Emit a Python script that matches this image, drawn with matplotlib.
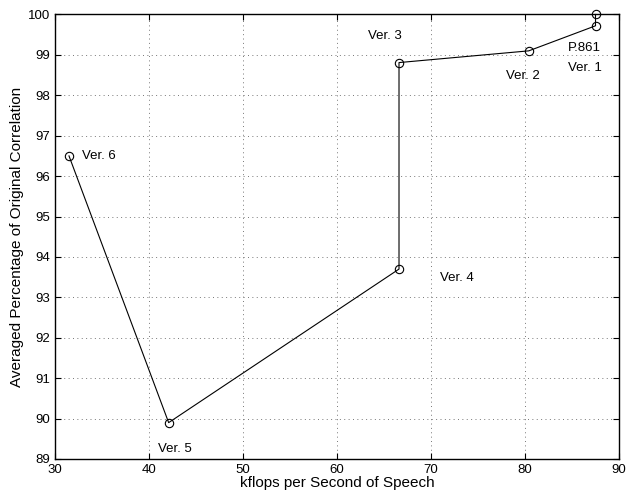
import matplotlib
matplotlib.use('Agg')
import matplotlib.pyplot as plt

# data (path order as drawn)
kflops = [87.5, 87.5, 80.4, 66.6, 66.6, 42.1, 31.5]
corr = [100.0, 99.72, 99.1, 98.81, 93.7, 89.9, 96.5]

# annotation labels and where they sit (data units)
labels = ['P.861', 'Ver. 1', 'Ver. 2', 'Ver. 3', 'Ver. 4', 'Ver. 5', 'Ver. 6']
label_x = [84.6, 84.6, 78.0, 63.3, 71.0, 41.0, 32.9]
label_y = [99.17, 98.67, 98.48, 99.47, 93.48, 89.25, 96.5]

plt.rcParams['font.family'] = ['Liberation Sans', 'DejaVu Sans']

fig = plt.figure(figsize=(6.31, 4.96), dpi=100)
ax = fig.add_axes([0.087, 0.0746, 0.894, 0.8962])

ax.plot(kflops, corr, '-', color='black', lw=0.8, clip_on=False)
ax.plot(kflops, corr, 'o', mfc='none', mec='black', ms=6, mew=0.8,
        clip_on=False, zorder=5)

for t, x, y in zip(labels, label_x, label_y):
    ax.text(x, y, t, fontsize=9.5, ha='left', va='center')

ax.set_xlim(30, 90)
ax.set_ylim(89, 100)
ax.set_xticks(range(30, 91, 10))
ax.set_yticks(range(89, 101))
ax.grid(True, linestyle=(0, (1, 3.5)), color='#777777', lw=0.7)
ax.tick_params(direction='in', top=True, right=True, labelsize=9.5, length=4)
for s in ax.spines.values():
    s.set_linewidth(1.0)

ax.set_xlabel('kflops per Second of Speech', fontsize=11, labelpad=0)
ax.set_ylabel('Averaged Percentage of Original Correlation', fontsize=11, labelpad=3)

fig.savefig('out.png', dpi=100)
